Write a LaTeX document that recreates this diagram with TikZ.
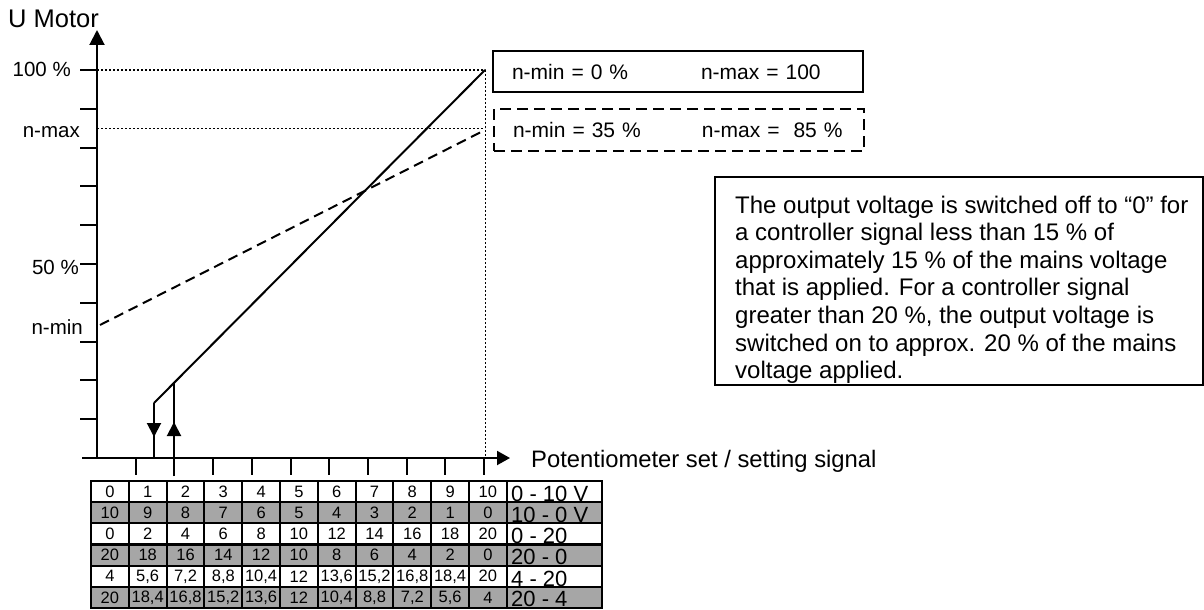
\documentclass[tikz,border=0pt]{standalone}
\usepackage{fontspec}
\setmainfont{Liberation Sans}
\usetikzlibrary{arrows.meta}
\definecolor{rowgray}{RGB}{166,166,166}
\begin{document}
\begin{tikzpicture}[x=1pt, y=-1pt,
  axisline/.style={line width=2pt},
  guide/.style={line width=1pt, dash pattern=on 2pt off 2pt},
  curve/.style={line width=2pt},
  ylbl/.style={anchor=base east, inner sep=0pt, font=\fontsize{20.5}{24}\selectfont},
  cell/.style={draw, line width=2pt, fill=white, minimum width=37.8pt, minimum height=21.17pt, inner sep=0pt, font=\fontsize{16.5}{18}\selectfont},
  graycell/.style={cell, fill=rowgray},
  rowname/.style={anchor=base west, inner sep=0pt, font=\fontsize{22}{24}\selectfont},
  setbox/.style={line width=2pt, anchor=north west, minimum width=370pt, inner xsep=19pt, text width=332pt, align=left, font=\fontsize{21}{24}\selectfont}]
\useasboundingbox (0,0) rectangle (1204,610);

% axes
\coordinate (O) at (97,458);
\coordinate (ytop) at (97,30);
\coordinate (xleft) at (82,458);
\coordinate (xend) at (510,458);
\draw[axisline, -{Triangle[length=15pt, width=15pt]}] (O) -- (ytop);
\draw[axisline, -{Triangle[length=13pt, width=14pt]}] (xleft) -- (xend);
\foreach \k in {0,...,9}
  \draw[axisline] (80,70+38.8*\k) -- (97,70+38.8*\k);
\foreach \v in {1,...,10}
  \draw[axisline] (97+38.7*\v,458) -- (97+38.7*\v,475);

\node[anchor=base west, inner sep=0pt, font=\fontsize{25.5}{28}\selectfont] (umotor) at (8,28) {U Motor};
\node[anchor=base west, inner sep=0pt, font=\fontsize{23.8}{28}\selectfont] (xlabel) at (531,467) {Potentiometer set / setting signal};
\node[ylbl] (l100) at (71,77) {100 \%};
\node[ylbl] (lmax) at (80,137) {n-max};
\node[ylbl] (l50) at (79,274) {50 \%};
\node[ylbl] (lmin) at (83,334) {n-min};

% guide lines
\coordinate (y100) at (97,70);
\coordinate (ymax) at (97,128);
\coordinate (p100) at (485,70);
\coordinate (pmax) at (485,128);
\coordinate (x10) at (485,458);
\draw[guide] (y100) -- (p100) -- (x10);
\draw[guide] (ymax) -- (pmax);

% characteristic lines
\coordinate (kink) at (154,403);
\coordinate (dntip) at (154,437);
\coordinate (dnbot) at (154,458);
\coordinate (uptop) at (174,383);
\coordinate (uptip) at (174,422);
\coordinate (upbot) at (174,476);
\coordinate (nmin) at (100,325);
\coordinate (nmax) at (485,130);
\draw[curve] (kink) -- (p100);
\draw[curve, dash pattern=on 10pt off 6pt] (nmin) -- (nmax);
\draw[curve] (kink) -- (dnbot);
\draw[curve, -{Triangle[length=14pt, width=14pt]}] (kink) -- (dntip);
\draw[curve] (upbot) -- (uptop);
\draw[curve, -{Triangle[length=14pt, width=14pt]}] (upbot) -- (uptip);

% setting boxes
\node[setbox, draw, minimum height=41pt] (full) at (492,50) {\makebox[189pt][l]{n-min = 0 \%}n-max = 100};
\node[setbox, draw, dash pattern=on 11pt off 6pt, minimum height=42pt] (limited) at (493,108) {\makebox[189pt][l]{n-min = 35 \%}n-max =~ 85 \%};

% note
\node[draw, line width=2pt, anchor=north west, minimum width=488pt, minimum height=208pt, inner sep=0pt] (note) at (714,176) {};
\node[anchor=north west, inner sep=0pt, align=left, font=\fontsize{24}{27.6}\selectfont] (notetext) at (735,195.5) {The output voltage is switched off to “0” for\\
a controller signal less than 15 \% of\\
approximately 15 \% of the mains voltage\\
that is applied. For a controller signal\\
greater than 20 \%, the output voltage is\\
switched on to approx. 20 \% of the mains\\
voltage applied.};

% signal table
\foreach \v [count=\i from 0] in {0,1,2,3,4,5,6,7,8,9,10}
  \node[cell] (r1-\i) at (109.9+37.8*\i,491.6) {\v};
\node[cell, minimum width=95.2pt] (r1-name) at (554.4,491.6) {};
\node[rowname] (n1) at (511,501) {0 - 10 V};
\foreach \v [count=\i from 0] in {10,9,8,7,6,5,4,3,2,1,0}
  \node[graycell] (r2-\i) at (109.9+37.8*\i,512.8) {\v};
\node[graycell, minimum width=95.2pt] (r2-name) at (554.4,512.8) {};
\node[rowname] (n2) at (511,522) {10 - 0 V};
\foreach \v [count=\i from 0] in {0,2,4,6,8,10,12,14,16,18,20}
  \node[cell] (r3-\i) at (109.9+37.8*\i,533.9) {\v};
\node[cell, minimum width=95.2pt] (r3-name) at (554.4,533.9) {};
\node[rowname] (n3) at (511,543.5) {0 - 20};
\foreach \v [count=\i from 0] in {20,18,16,14,12,10,8,6,4,2,0}
  \node[graycell] (r4-\i) at (109.9+37.8*\i,555.1) {\v};
\node[graycell, minimum width=95.2pt] (r4-name) at (554.4,555.1) {};
\node[rowname] (n4) at (511,564.5) {20 - 0};
\foreach \v [count=\i from 0] in {4,{5,6},{7,2},{8,8},{10,4},12,{13,6},{15,2},{16,8},{18,4},20}
  \node[cell] (r5-\i) at (109.9+37.8*\i,576.3) {\v};
\node[cell, minimum width=95.2pt] (r5-name) at (554.4,576.3) {};
\node[rowname] (n5) at (511,586) {4 - 20};
\foreach \v [count=\i from 0] in {20,{18,4},{16,8},{15,2},{13,6},12,{10,4},{8,8},{7,2},{5,6},4}
  \node[graycell] (r6-\i) at (109.9+37.8*\i,597.4) {\v};
\node[graycell, minimum width=95.2pt] (r6-name) at (554.4,597.4) {};
\node[rowname] (n6) at (511,606) {20 - 4};
\end{tikzpicture}
\end{document}
